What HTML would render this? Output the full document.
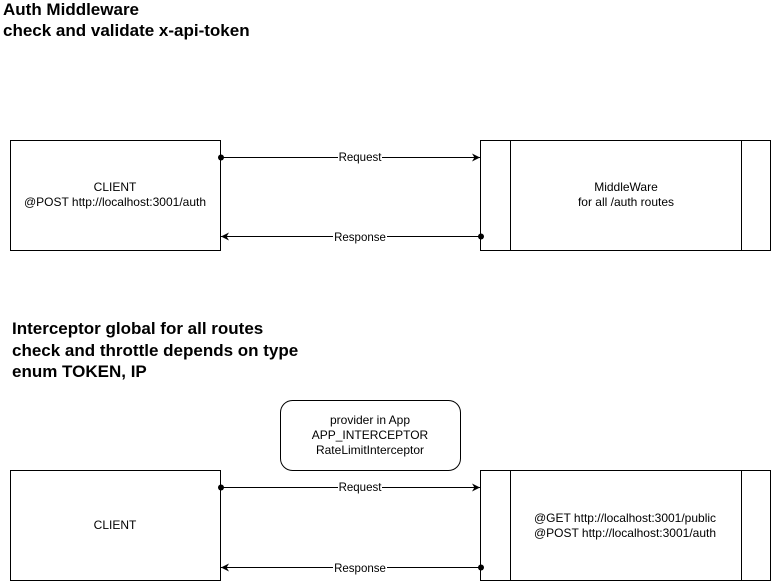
<!DOCTYPE html>
<html><head><meta charset="utf-8"><style>
html,body{margin:0;padding:0;background:#fff;width:771px;height:581px;overflow:hidden}
svg{display:block}
text{font-family:"Liberation Sans",Arial,sans-serif;fill:#000}
</style></head><body>
<svg width="771" height="581" viewBox="0 0 771 581">
<defs>
<marker id="a" viewBox="0 0 10 10" refX="10" refY="5" markerWidth="8" markerHeight="8" orient="auto" markerUnits="userSpaceOnUse"><path d="M0,0 L10,5 L0,10 L3,5 z" fill="#000"/></marker>
</defs>
<g font-weight="bold" font-size="17">
<text x="3" y="15">Auth Middleware</text>
<text x="3" y="36">check and validate x-api-token</text>
<text x="12" y="334">Interceptor global for all routes</text>
<text x="12" y="356">check and throttle depends on type</text>
<text x="12" y="377">enum TOKEN, IP</text>
</g>
<g fill="none" stroke="#000" stroke-width="1">
<rect x="10.5" y="140.5" width="210" height="110"/>
<rect x="480.5" y="140.5" width="290" height="110"/>
<line x1="510.5" y1="140.5" x2="510.5" y2="250.5"/>
<line x1="741.5" y1="140.5" x2="741.5" y2="250.5"/>
<rect x="280.5" y="400.5" width="180" height="70" rx="12"/>
<rect x="10.5" y="470.5" width="210" height="110"/>
<rect x="480.5" y="470.5" width="290" height="110"/>
<line x1="510.5" y1="470.5" x2="510.5" y2="580.5"/>
<line x1="741.5" y1="470.5" x2="741.5" y2="580.5"/>
<line x1="221" y1="157.5" x2="480" y2="157.5" marker-end="url(#a)"/>
<line x1="480" y1="236.5" x2="221" y2="236.5" marker-end="url(#a)"/>
<line x1="221" y1="487.5" x2="480" y2="487.5" marker-end="url(#a)"/>
<line x1="480" y1="567.5" x2="221" y2="567.5" marker-end="url(#a)"/>
</g>
<g fill="#000">
<circle cx="221" cy="157.5" r="3"/>
<circle cx="481" cy="236.5" r="3"/>
<circle cx="221" cy="487.5" r="3"/>
<circle cx="481" cy="567.5" r="3"/>
</g>
<g font-size="11.5" text-anchor="middle">
<rect x="338" y="151" width="44" height="13" fill="#fff"/>
<text x="360" y="161">Request</text>
<rect x="333" y="230" width="54" height="13" fill="#fff"/>
<text x="360" y="241">Response</text>
<rect x="338" y="481" width="44" height="13" fill="#fff"/>
<text x="360" y="491">Request</text>
<rect x="333" y="561" width="54" height="13" fill="#fff"/>
<text x="360" y="572">Response</text>
</g>
<g font-size="12" text-anchor="middle" fill="#222">
<text x="115" y="191">CLIENT</text>
<text x="115" y="206">@POST http://localhost:3001/auth</text>
<text x="626" y="191">MiddleWare</text>
<text x="626" y="206">for all /auth routes</text>
<text x="370" y="424">provider in App</text>
<text x="370" y="439">APP_INTERCEPTOR</text>
<text x="370" y="454">RateLimitInterceptor</text>
<text x="115" y="529">CLIENT</text>
<text x="625" y="522">@GET http://localhost:3001/public</text>
<text x="625" y="537">@POST http://localhost:3001/auth</text>
</g>
</svg>
</body></html>
